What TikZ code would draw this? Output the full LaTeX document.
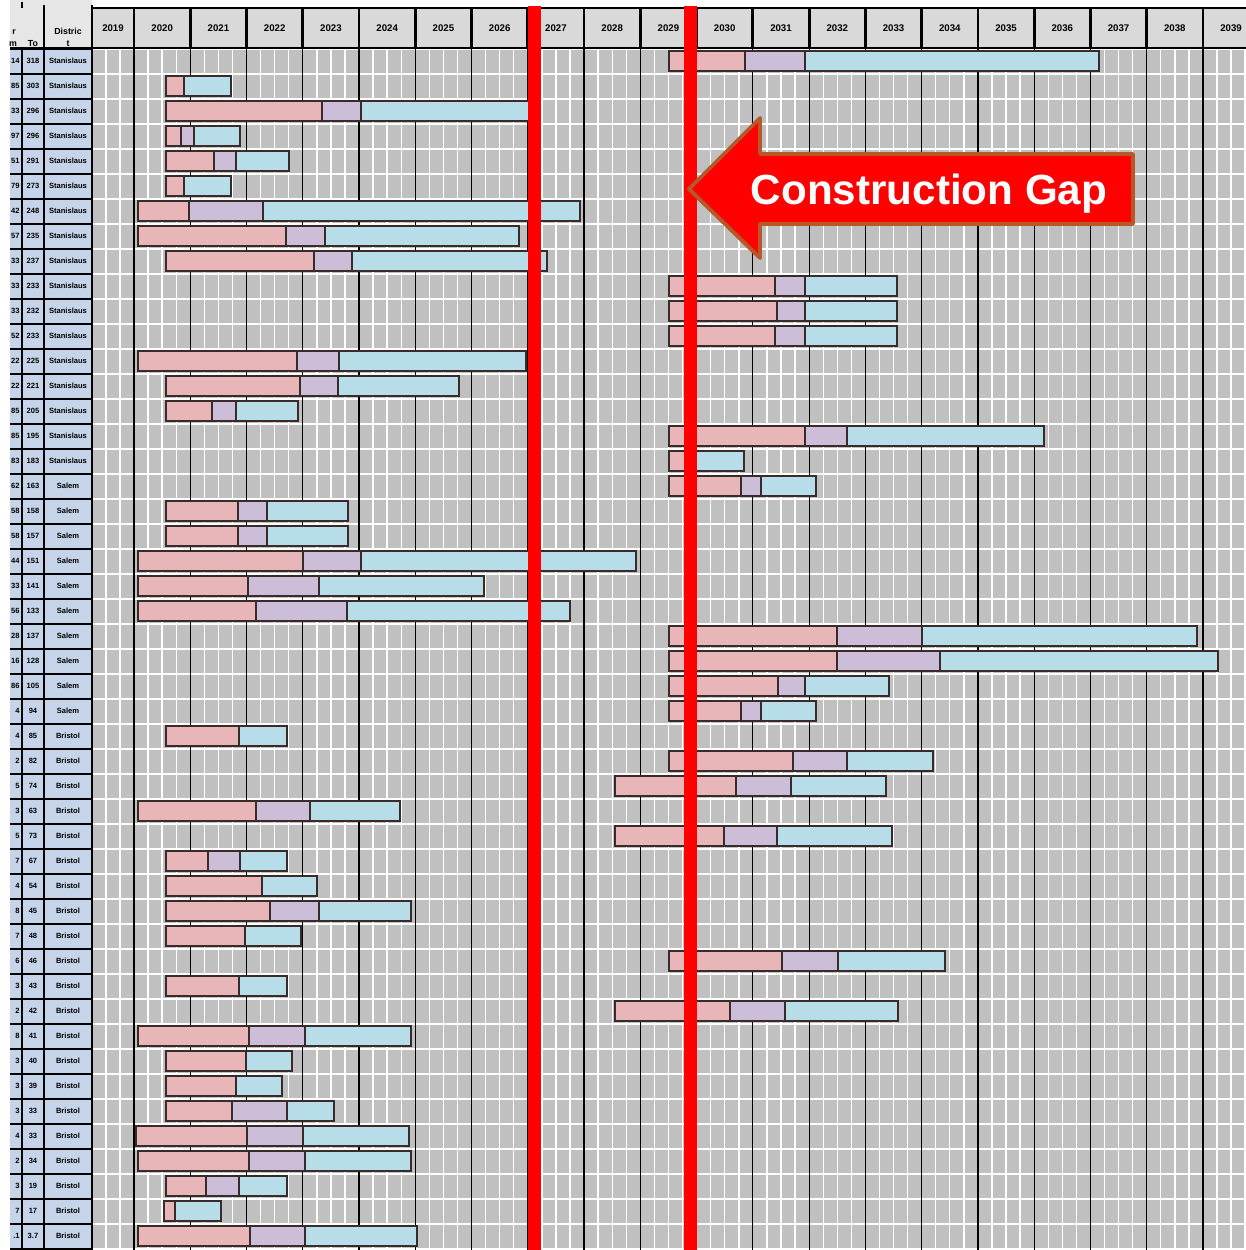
\documentclass[tikz,border=0pt]{standalone}
\usepackage{fontspec}
\setmainfont{Liberation Sans}
\usetikzlibrary{positioning}
\definecolor{gridgray}{HTML}{C0C0C0}
\definecolor{headgray}{HTML}{D9D9D9}
\definecolor{headlight}{HTML}{E6E6E6}
\definecolor{tableblue}{HTML}{C5D4E8}
\definecolor{barpink}{HTML}{E8B6B9}
\definecolor{barlav}{HTML}{CCBED8}
\definecolor{barblue}{HTML}{B6DDE8}
\definecolor{barline}{HTML}{3A2B2B}
\definecolor{gapred}{HTML}{FF0000}
\definecolor{gapedge}{HTML}{B8582A}
\tikzset{
  bar/.style={draw=barline,line width=0.9pt},
  headbox/.style={draw=black,line width=1.6pt,fill=headgray},
  tinytext/.style={font=\fontsize{4.3}{4.3}\selectfont\bfseries,text=black,inner sep=0pt},
  headtext/.style={font=\fontsize{5}{5}\selectfont\bfseries,text=black,inner sep=0pt},
  yeartext/.style={font=\fontsize{5.5}{5.5}\selectfont\bfseries,inner sep=0pt}
}
\begin{document}
\begin{tikzpicture}[x=0.02cm,y=-0.02cm]
\useasboundingbox (0,0) rectangle (1245,1250);
\fill[white] (0,0) rectangle (1245,1250);

% chart area and its grid
\fill[gridgray] (92,49) rectangle (1245,1250);
\foreach \r in {0,...,48}{%
  \draw[white,line width=1.1pt] (92,{49+25*\r}) -- (1245,{49+25*\r});
}
\foreach \k in {0,...,20}{%
  \pgfmathsetmacro{\xs}{77.74+56.26*\k}
  \foreach \q in {1,2,3}{%
    \draw[white,line width=0.8pt] ({\xs+14.07*\q},49) -- ({\xs+14.07*\q},1250);
  }
  \ifnum\k>0
    \draw[black,line width=0.7pt] (\xs,49) -- (\xs,1250);
  \fi
}

% year header
\foreach \k in {0,...,20}{%
  \pgfmathsetmacro{\xs}{max(77.74+56.26*\k,92)}
  \pgfmathsetmacro{\xe}{77.74+56.26*(\k+1)}
  \pgfmathtruncatemacro{\yr}{2019+\k}
  \draw[headbox] (\xs,8) rectangle (\xe,48);
  \node[yeartext] (Y\yr) at ({(\xs+\xe)/2},28) {\yr};
}

% left table
\fill[headlight] (10,0) rectangle (92,48);
\fill[tableblue] (10,49) rectangle (92,1250);
\foreach \r in {0,...,48}{%
  \draw[black,line width=0.6pt] (10,{49+25*\r}) -- (92,{49+25*\r});
}
\draw[black,line width=0.8pt] (22,49) -- (22,1250);
\draw[black,line width=0.8pt] (22,2) -- (22,8);
\draw[black,line width=1.2pt] (44,5) -- (44,1250);
\draw[black,line width=1.6pt] (92,5) -- (92,1250);
\draw[black,line width=1.6pt] (10,48) -- (1245,48);
\node[headtext] (Hr) at (14,32) {r};
\node[headtext] (Hm) at (13,44) {m};
\node[headtext] (Hto) at (33,44) {To};
\node[headtext] (Hdist) at (68,31) {Distric};
\node[headtext] (Ht) at (68,44) {t};

\foreach \r/\na/\nb in {0/14/318,1/85/303,2/33/296,3/97/296,4/51/291,5/79/273,6/42/248,7/57/235,
  8/33/237,9/33/233,10/33/232,11/52/233,12/22/225,13/22/221,14/85/205,15/85/195,16/83/183,
  17/62/163,18/58/158,19/58/157,20/44/151,21/33/141,22/56/133,23/28/137,24/16/128,25/86/105,
  26/4/94,27/4/85,28/2/82,29/5/74,30/3/63,31/5/73,32/7/67,33/4/54,34/8/45,35/7/48,36/6/46,
  37/3/43,38/2/42,39/8/41,40/3/40,41/3/39,42/3/33,43/4/33,44/2/34,45/3/19,46/7/17,47/.1/3.7}{%
  \node[tinytext,anchor=east] (A\r) at (20,{61+25*\r}) {\na};
  \node[tinytext] (B\r) at (33,{61+25*\r}) {\nb};
  \ifnum\r<17
    \node[tinytext] (D\r) at (68,{61+25*\r}) {Stanislaus};
  \else\ifnum\r<27
    \node[tinytext] (D\r) at (68,{61+25*\r}) {Salem};
  \else
    \node[tinytext] (D\r) at (68,{61+25*\r}) {Bristol};
  \fi\fi
}

% bars: row / start / end of first phase / end of second phase / end
\foreach \r/\a/\b/\c/\d in {0/669/745/805/1099,1/166/184/184/231,2/166/322/361/530,
  3/166/181/194/240,4/166/214/236/289,5/166/184/184/231,6/138/189/263/580,7/138/286/325/519,
  8/166/314/352/547,9/669/775/805/897,10/669/777/805/897,11/669/775/805/897,
  12/138/297/339/526,13/166/300/338/459,14/166/212/236/298,15/669/805/847/1044,
  16/669/690/690/744,17/669/741/761/816,18/166/238/267/348,19/166/238/267/348,
  20/138/303/361/636,21/138/248/319/484,22/138/256/347/570,23/669/837/922/1197,
  24/669/837/940/1218,25/669/778/805/889,26/669/741/761/816,27/166/239/239/287,
  28/669/793/847/933,29/615/736/791/886,30/138/256/310/400,31/615/724/777/892,
  32/166/208/240/287,33/166/262/262/317,34/166/270/319/411,35/166/245/245/301,
  36/669/782/838/945,37/166/239/239/287,38/615/730/785/898,39/138/249/305/411,
  40/166/246/246/292,41/166/236/236/282,42/166/232/287/334,43/136/247/303/409,
  44/138/249/305/411,45/166/206/239/287,46/164/175/175/221,47/138/250/305/417}{%
  \draw[bar,fill=barpink] (\a,{51+25*\r}) rectangle (\b,{71+25*\r});
  \ifnum\c>\b
    \draw[bar,fill=barlav] (\b,{51+25*\r}) rectangle (\c,{71+25*\r});
  \fi
  \draw[bar,fill=barblue] (\c,{51+25*\r}) rectangle (\d,{71+25*\r});
}

% gap markers
\fill[gapred] (528,6) rectangle (541,1250);
\fill[gapred] (684,6) rectangle (697,1250);

% arrow
\draw[draw=gapedge,fill=gapred,line width=2.2pt,line join=round]
  (689,189) -- (760,118) -- (760,154) -- (1133,154) -- (1133,224) -- (760,224) -- (760,258) -- cycle;
\node[anchor=base,text=white,inner sep=0pt,font=\fontsize{24}{24}\selectfont\bfseries]
  (gap) at (929,205) {Construction Gap};
\end{tikzpicture}
\end{document}
